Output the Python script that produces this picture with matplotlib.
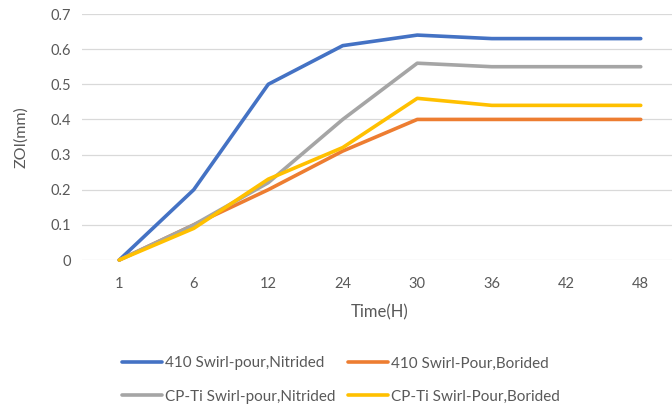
import matplotlib
matplotlib.use("Agg")
import matplotlib.pyplot as plt

plt.rcParams['font.family'] = ['Lato', 'DejaVu Sans']

hours = ["1", "6", "12", "24", "30", "36", "42", "48"]
series_names = [
    "410 Swirl-pour,Nitrided",
    "410 Swirl-Pour,Borided",
    "CP-Ti Swirl-pour,Nitrided",
    "CP-Ti Swirl-Pour,Borided",
]
zoi_410_nitrided = [0, 0.20, 0.50, 0.61, 0.64, 0.63, 0.63, 0.63]
zoi_410_borided = [0, 0.10, 0.20, 0.31, 0.40, 0.40, 0.40, 0.40]
zoi_cpti_nitrided = [0, 0.10, 0.22, 0.40, 0.56, 0.55, 0.55, 0.55]
zoi_cpti_borided = [0, 0.09, 0.23, 0.32, 0.46, 0.44, 0.44, 0.44]
y_ticks = [0, 0.1, 0.2, 0.3, 0.4, 0.5, 0.6, 0.7]
y_tick_labels = ["0", "0.1", "0.2", "0.3", "0.4", "0.5", "0.6", "0.7"]

colors = ["#4472C4", "#ED7D31", "#A5A5A5", "#FFC000"]
text_color = "#595959"

fig = plt.figure(figsize=(6.72, 4.09), dpi=100)
ax = fig.add_axes([82 / 672, 1 - 260 / 409, 596 / 672, 246 / 409])

x = list(range(len(hours)))
all_series = [zoi_410_nitrided, zoi_410_borided, zoi_cpti_nitrided, zoi_cpti_borided]
lines = []
for vals, name, c in zip(all_series, series_names, colors):
    ln, = ax.plot(x, vals, color=c, lw=2.6, label=name, solid_capstyle='round',
                  solid_joinstyle='round', clip_on=False)
    lines.append(ln)

ax.set_xlim(-0.5, len(hours) - 0.5)
ax.set_ylim(0, 0.7)
ax.set_xticks(x)
ax.set_xticklabels(hours)
ax.set_yticks(y_ticks)
ax.set_yticklabels(y_tick_labels)
ax.grid(axis='y', color='#D9D9D9', lw=0.9)
ax.set_axisbelow(True)
for s in ax.spines.values():
    s.set_visible(False)
ax.tick_params(length=0, labelsize=10.5, colors=text_color, pad=8)
ax.tick_params(axis='x', pad=12)

ax.set_xlabel("Time(H)", fontsize=12, color=text_color, labelpad=10)
ax.set_ylabel("ZOI(mm)", fontsize=11.5, color=text_color, labelpad=16)

# legend entries laid out row by row (matplotlib fills columns first)
order = [0, 2, 1, 3]
fig.legend(handles=[lines[i] for i in order],
           labels=[series_names[i] for i in order], ncol=2, loc='center',
           bbox_to_anchor=(341 / 672, 1 - 380 / 409), frameon=False,
           fontsize=11, labelcolor=text_color, handlelength=2.6,
           handletextpad=0.2, columnspacing=0.8, labelspacing=1.25)

fig.savefig("out.png", dpi=100)
